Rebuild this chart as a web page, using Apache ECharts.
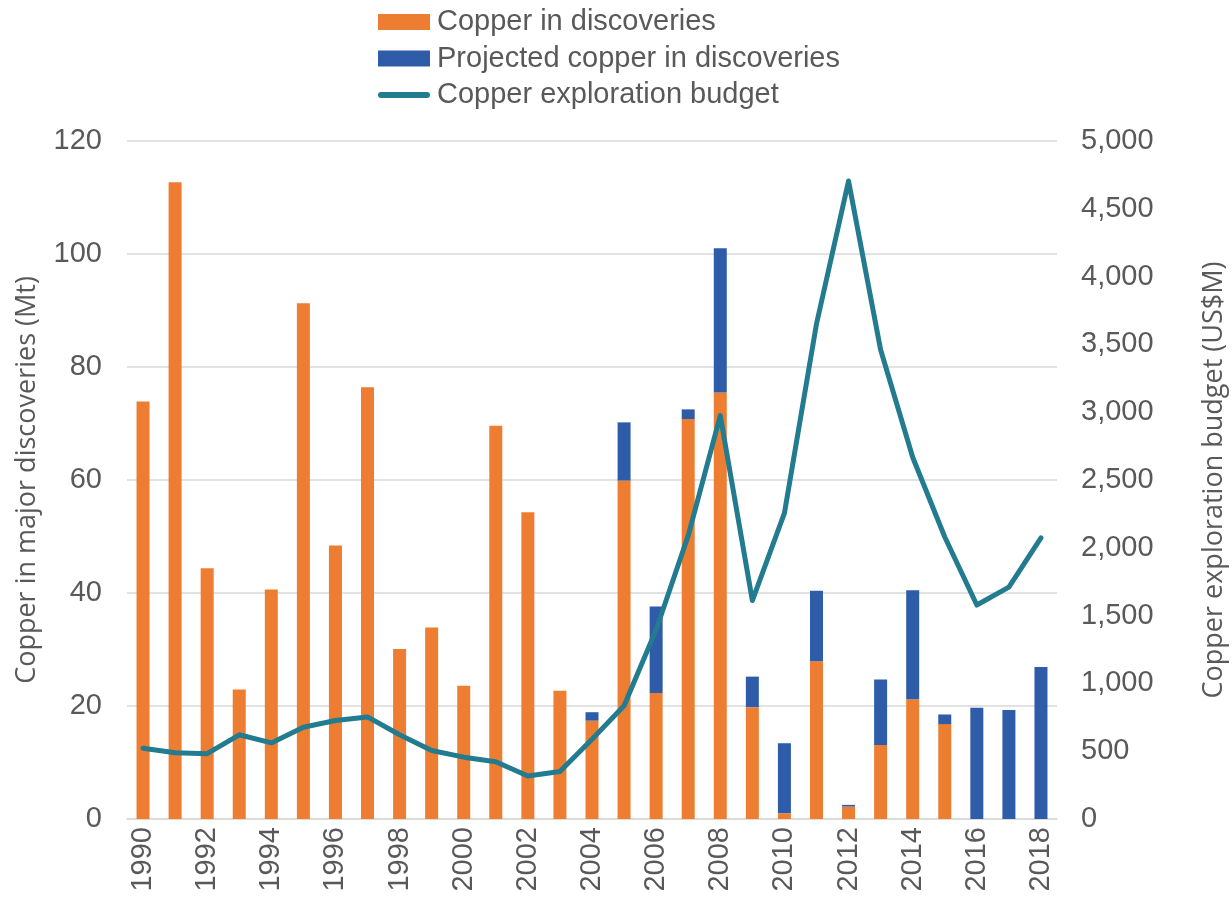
<!DOCTYPE html>
<html>
<head>
<meta charset="utf-8">
<script src="https://cdn.jsdelivr.net/npm/echarts@6/dist/echarts.min.js"></script>
<style>
html,body{margin:0;padding:0;background:#fff;}
#chart{width:1232px;height:902px;}
</style>
</head>
<body>
<div id="chart"></div>
<script>
const years = ['1990','1991','1992','1993','1994','1995','1996','1997','1998','1999','2000','2001','2002','2003','2004','2005','2006','2007','2008','2009','2010','2011','2012','2013','2014','2015','2016','2017','2018'];
const copperDiscoveries = [73.9,112.7,44.4,22.9,40.6,91.3,48.4,76.4,30.1,33.9,23.6,69.6,54.3,22.7,17.4,59.9,22.3,70.8,75.5,19.8,1.0,27.9,2.2,13.1,21.2,16.8,0,0,0];
const projectedCopper = [0,0,0,0,0,0,0,0,0,0,0,0,0,0,1.5,10.3,15.3,1.7,25.5,5.4,12.4,12.5,0.3,11.6,19.3,1.7,19.7,19.3,26.9];
const explorationBudget = [522,489,482,621,561,677,726,753,621,505,456,422,317,350,588,835,1396,2090,2975,1611,2255,3651,4705,3460,2668,2080,1578,1710,2073];

const names = ['Copper in discoveries','Projected copper in discoveries','Copper exploration budget'];
const textColor = '#595959';
const fontFam = '"Liberation Sans", Arial, sans-serif';
const titleFam = '"Open Sans", sans-serif';
const lineIcon = 'path://M3,0 L49,0 A3,3 0 0 1 49,6 L3,6 A3,3 0 0 1 3,0 Z';

const chart = echarts.init(document.getElementById('chart'));
chart.setOption({
  animation: false,
  backgroundColor: '#fff',
  legend: {
    orient: 'vertical',
    left: 378,
    top: 7,
    padding: 0,
    itemWidth: 52,
    itemHeight: 16,
    itemGap: 6.5,
    textStyle: {color: textColor, fontSize: 29, fontFamily: fontFam, lineHeight: 30, padding: [0,0,0,2]},
    data: [
      {name: names[0], icon: 'rect'},
      {name: names[1], icon: 'rect'},
      {name: names[2], icon: lineIcon, itemStyle: {color: '#237B8F'}}
    ]
  },
  grid: {left: 127, right: 175, top: 141, bottom: 83, containLabel: false, outerBoundsMode: 'none'},
  xAxis: {
    type: 'category',
    data: years,
    axisLine: {show: true, lineStyle: {color: '#D9D9D9', width: 1.5}},
    axisTick: {show: false},
    axisLabel: {interval: 1, rotate: 90, margin: 8, color: textColor, fontSize: 29, fontFamily: fontFam}
  },
  yAxis: [
    {
      type: 'value', min: 0, max: 120, interval: 20,
      name: 'Copper in major discoveries (Mt)',
      nameLocation: 'middle', nameGap: 86,
      nameTextStyle: {color: textColor, fontSize: 27, fontFamily: titleFam},
      axisLine: {show: false}, axisTick: {show: false},
      axisLabel: {color: textColor, fontSize: 29, fontFamily: fontFam, margin: 25},
      splitLine: {show: true, lineStyle: {color: '#D9D9D9', width: 1.5}}
    },
    {
      type: 'value', min: 0, max: 5000, interval: 500, position: 'right',
      name: 'Copper exploration budget (US$M)',
      nameLocation: 'middle', nameGap: 144,
      nameRotate: 90,
      nameTextStyle: {color: textColor, fontSize: 27, fontFamily: titleFam},
      axisLine: {show: false}, axisTick: {show: false},
      axisLabel: {color: textColor, fontSize: 29, fontFamily: fontFam, margin: 24,
        formatter: v => v.toLocaleString('en-US')},
      splitLine: {show: false}
    }
  ],
  series: [
    {
      name: names[0], type: 'bar', stack: 'cu', barWidth: 13,
      itemStyle: {color: '#ED7D31'},
      data: copperDiscoveries
    },
    {
      name: names[1], type: 'bar', stack: 'cu', barWidth: 13,
      itemStyle: {color: '#2E5CA8'},
      data: projectedCopper
    },
    {
      name: names[2], type: 'line', yAxisIndex: 1,
      symbol: 'none', z: 5,
      lineStyle: {color: '#237B8F', width: 5, cap: 'round', join: 'round'},
      itemStyle: {color: '#237B8F'},
      data: explorationBudget
    }
  ]
});
</script>
</body>
</html>
